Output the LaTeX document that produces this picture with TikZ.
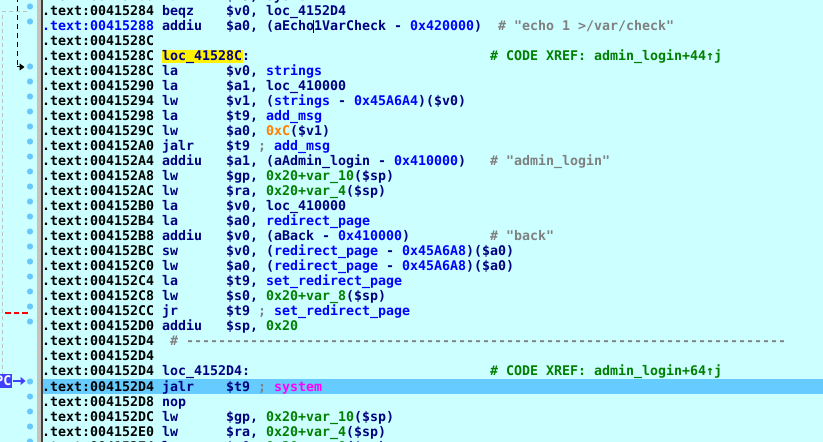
\documentclass[tikz,border=0pt]{standalone}
\usepackage{fontspec}
\setmonofont{DejaVu Sans Mono}
\usetikzlibrary{arrows.meta}
\definecolor{bg}{RGB}{204,255,255}
\definecolor{navy}{RGB}{0,0,128}
\definecolor{idablue}{RGB}{0,0,255}
\definecolor{idagreen}{RGB}{0,128,0}
\definecolor{idagray}{RGB}{128,128,128}
\definecolor{idaorange}{RGB}{255,128,0}
\definecolor{idamag}{RGB}{255,0,255}
\definecolor{hl}{RGB}{102,204,255}
\definecolor{dotblue}{RGB}{102,200,255}
\definecolor{sepgray}{RGB}{200,196,188}
\definecolor{sepdark}{RGB}{64,64,64}
\definecolor{pcblue}{RGB}{64,64,255}
\definecolor{dashgray}{RGB}{192,192,192}
\newcommand\idafont{\ttfamily\bfseries\fontsize{13.29bp}{15bp}\selectfont}
\newcommand\blu[1]{\textcolor{idablue}{#1}}
\newcommand\grn[1]{\textcolor{idagreen}{#1}}
\newcommand\org[1]{\textcolor{idaorange}{#1}}
\newcommand\mgt[1]{\textcolor{idamag}{#1}}
\newcommand\gry[1]{\textcolor{idagray}{#1}}
\newcommand\adr[3][black]{\node[tok,text=#1] (ad#2) at (42,{16+15*#2}) {.text:#3};}
\newcommand\mnm[2]{\node[tok] (mn#1) at (162,{16+15*#1}) {#2};}
\newcommand\opr[2]{\node[tok] (op#1) at (226,{16+15*#1}) {#2};}
\newcommand\cmt[4][idagray]{\node[tok,text=#1] (cm#2) at ({42+8*#3},{16+15*#2}) {#4};}
\newcommand\dashline{---------------------------------------------------------------------------}
\tikzset{
  tok/.style={anchor=base west, inner sep=0pt, outer sep=0pt, font=\idafont, text=navy},
  pcbox/.style={fill=pcblue, text=white, font=\idafont, inner xsep=1bp, inner ysep=0pt, minimum height=13bp, anchor=east},
  gutterdot/.style={fill=dotblue},
}
\begin{document}
\begin{tikzpicture}[x=1bp,y=-1bp]
\useasboundingbox (0,0) rectangle (823,442);
\clip (0,0) rectangle (823,442);
\fill[bg] (0,0) rectangle (823,442);
% separator
\fill[sepgray] (36.5,0) rectangle (41,442);
\fill[sepdark] (41,0) rectangle (42.5,442);
% highlights
\fill[hl] (42.5,379) rectangle (823,394);
\fill[yellow] (162,50) rectangle (243,63);
% rows
\adr{-1}{00415280} \mnm{-1}{la} \opr{-1}{\$t9, system}
\adr{0}{00415284} \mnm{0}{beqz} \opr{0}{\$v0, loc\_4152D4}
\adr[idablue]{1}{00415288} \mnm{1}{addiu} \opr{1}{\$a0, (aEcho1VarCheck - \blu{0x420000})} \cmt{1}{57}{\# "echo 1 >/var/check"}
\adr{2}{0041528C}
\adr{3}{0041528C} \mnm{3}{loc\_41528C:} \cmt[idagreen]{3}{56}{\# CODE XREF: admin\_login+44↑j}
\adr{4}{0041528C} \mnm{4}{la} \opr{4}{\$v0, \blu{strings}}
\adr{5}{00415290} \mnm{5}{la} \opr{5}{\$a1, loc\_410000}
\adr{6}{00415294} \mnm{6}{lw} \opr{6}{\$v1, (\blu{strings} - \blu{0x45A6A4})(\$v0)}
\adr{7}{00415298} \mnm{7}{la} \opr{7}{\$t9, \blu{add\_msg}}
\adr{8}{0041529C} \mnm{8}{lw} \opr{8}{\$a0, \org{0xC}(\$v1)}
\adr{9}{004152A0} \mnm{9}{jalr} \opr{9}{\$t9 \gry{;} \blu{add\_msg}}
\adr{10}{004152A4} \mnm{10}{addiu} \opr{10}{\$a1, (aAdmin\_login - \blu{0x410000})} \cmt{10}{56}{\# "admin\_login"}
\adr{11}{004152A8} \mnm{11}{lw} \opr{11}{\$gp, \grn{0x20+var\_10}(\$sp)}
\adr{12}{004152AC} \mnm{12}{lw} \opr{12}{\$ra, \grn{0x20+var\_4}(\$sp)}
\adr{13}{004152B0} \mnm{13}{la} \opr{13}{\$v0, loc\_410000}
\adr{14}{004152B4} \mnm{14}{la} \opr{14}{\$a0, \blu{redirect\_page}}
\adr{15}{004152B8} \mnm{15}{addiu} \opr{15}{\$v0, (aBack - \blu{0x410000})} \cmt{15}{56}{\# "back"}
\adr{16}{004152BC} \mnm{16}{sw} \opr{16}{\$v0, (\blu{redirect\_page} - \blu{0x45A6A8})(\$a0)}
\adr{17}{004152C0} \mnm{17}{lw} \opr{17}{\$a0, (\blu{redirect\_page} - \blu{0x45A6A8})(\$a0)}
\adr{18}{004152C4} \mnm{18}{la} \opr{18}{\$t9, \blu{set\_redirect\_page}}
\adr{19}{004152C8} \mnm{19}{lw} \opr{19}{\$s0, \grn{0x20+var\_8}(\$sp)}
\adr{20}{004152CC} \mnm{20}{jr} \opr{20}{\$t9 \gry{;} \blu{set\_redirect\_page}}
\adr{21}{004152D0} \mnm{21}{addiu} \opr{21}{\$sp, \grn{0x20}}
\adr{22}{004152D4} \cmt{22}{16}{\# \dashline}
\adr{23}{004152D4}
\adr{24}{004152D4} \mnm{24}{loc\_4152D4:} \cmt[idagreen]{24}{56}{\# CODE XREF: admin\_login+64↑j}
\adr{25}{004152D4} \mnm{25}{jalr} \opr{25}{\$t9 \gry{;} \mgt{system}}
\adr{26}{004152D8} \mnm{26}{nop}
\adr{27}{004152DC} \mnm{27}{lw} \opr{27}{\$gp, \grn{0x20+var\_10}(\$sp)}
\adr{28}{004152E0} \mnm{28}{lw} \opr{28}{\$ra, \grn{0x20+var\_4}(\$sp)}
\adr{29}{004152E4} \mnm{29}{lw} \opr{29}{\$s0, \grn{0x20+var\_8}(\$sp)}
% text cursor
\fill[black] (312.6,20) rectangle (314.3,33);
% gutter dots
\foreach \k in {0,1,4,5,...,21,25,26,...,29}
  \fill[gutterdot] (30,{6.5+15*\k}) circle (3.1);
% gutter arrows
\coordinate (g0) at (27,12);
\coordinate (g1) at (2,12);
\coordinate (g2) at (2,376);
\draw[dashgray, line width=1bp, dash pattern=on 4bp off 3bp] (g0) -- (g1) -- (g2);
\coordinate (b0) at (17,-3);
\coordinate (b1) at (17,67);
\coordinate (b2) at (24.5,67);
\draw[black, line width=1bp, dash pattern=on 5bp off 4bp] (b0) -- (b1);
\draw[black, line width=1bp, -{Triangle[length=5bp,width=7bp]}] (b1) -- (b2);
\coordinate (r0) at (5,313);
\coordinate (r1) at (30,313);
\draw[red, line width=2bp, dash pattern=on 5.5bp off 3bp] (r0) -- (r1);
\node[pcbox] (pc) at (12.5,381) {PC};
\coordinate (pctip) at (25.5,381);
\draw[pcblue, line width=2bp, -{Triangle[length=5bp,width=8bp]}] (pc.east) -- (pctip);
\end{tikzpicture}
\end{document}
